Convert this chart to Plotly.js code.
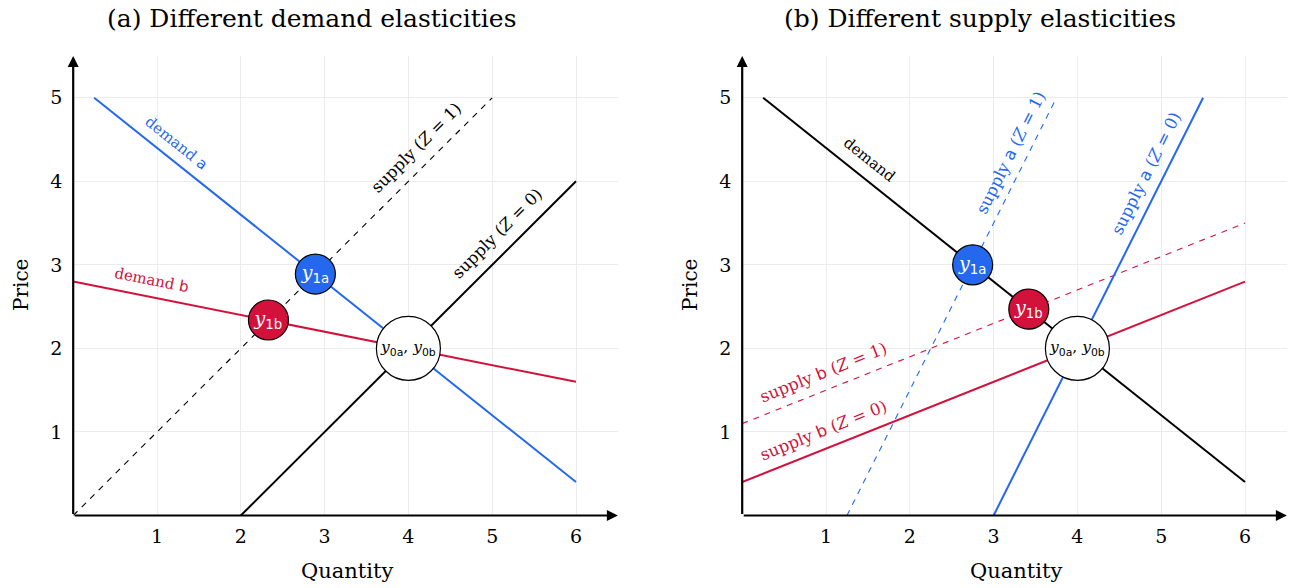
<!DOCTYPE html>
<html>
<head>
<meta charset="utf-8">
<script src="https://cdn.plot.ly/plotly-3.0.1.min.js"></script>
<style>html,body{margin:0;padding:0;background:#fff;}#chart{width:1291px;height:588px;}</style>
</head>
<body>
<div id="chart"></div>
<script>
// ---------- data ----------
// Panel (a): different demand elasticities
const demandA_Q = [0.25, 6];
const demandA_P = [5.0, 0.4];
const demandB_Q = [0, 6];
const demandB_P = [2.8, 1.6];
const supplyZ0_Q = [2, 6];
const supplyZ0_P = [0, 4];
const supplyZ1_Q = [0, 5];
const supplyZ1_P = [0, 5];
const eqA_Q = [2.89, 2.33, 4];
const eqA_P = [2.89, 2.34, 2];

// Panel (b): different supply elasticities
const demand_Q = [0.25, 6];
const demand_P = [5.0, 0.4];
const supplyA0_Q = [3, 5.5];
const supplyA0_P = [0, 5];
const supplyA1_Q = [1.25, 3.75];
const supplyA1_P = [0, 5];
const supplyB0_Q = [0, 6];
const supplyB0_P = [0.4, 2.8];
const supplyB1_Q = [0, 6];
const supplyB1_P = [1.1, 3.5];
const eqB_Q = [2.75, 3.42, 4];
const eqB_P = [3.0, 2.47, 2];

const xTicks = [1, 2, 3, 4, 5, 6];
const yTicks = [1, 2, 3, 4, 5];

// ---------- styling ----------
const BLUE = '#2468ee';
const RED = '#d3123c';
const BLACK = '#000000';
const SERIF = 'DejaVu Serif, Liberation Serif, serif';
const W = 1291, H = 588;

function line(xs, ys, color, width, dash, ax) {
  return {x: xs, y: ys, mode: 'lines', type: 'scatter',
    line: {color: color, width: width, dash: dash || 'solid'},
    xaxis: ax[0], yaxis: ax[1], hoverinfo: 'skip', showlegend: false, cliponaxis: false};
}
function sub(s){ return '<span style="font-family:DejaVu Sans">' + s + '</span>'; }
const lblY1a = '<i>y</i><sub>' + sub('1a') + '</sub>';
const lblY1b = '<i>y</i><sub>' + sub('1b') + '</sub>';
const lblY0 = '<i>y</i><sub>' + sub('0a') + '</sub>, <i>y</i><sub>' + sub('0b') + '</sub>';

function eqTraces(qs, ps, ax) {
  return [
    {x: qs.slice(0, 2), y: ps.slice(0, 2), mode: 'markers+text', type: 'scatter',
     marker: {size: 40, color: [BLUE, RED], line: {color: BLACK, width: 1.2}},
     text: [lblY1a, lblY1b], textposition: 'middle center',
     textfont: {family: SERIF, size: 19, color: '#ffffff'},
     xaxis: ax[0], yaxis: ax[1], hoverinfo: 'skip', showlegend: false, cliponaxis: false},
    {x: qs.slice(2), y: ps.slice(2), mode: 'markers+text', type: 'scatter',
     marker: {size: 64, color: '#ffffff', line: {color: BLACK, width: 1.2}},
     text: [lblY0], textposition: 'middle center',
     textfont: {family: SERIF, size: 15.5, color: BLACK},
     xaxis: ax[0], yaxis: ax[1], hoverinfo: 'skip', showlegend: false, cliponaxis: false}
  ];
}

const L = ['x', 'y'], R = ['x2', 'y2'];
const traces = [
  line(supplyZ1_Q, supplyZ1_P, BLACK, 1.1, '6px,6px', L),
  line(supplyZ0_Q, supplyZ0_P, BLACK, 2, 'solid', L),
  line(demandA_Q, demandA_P, BLUE, 2, 'solid', L),
  line(demandB_Q, demandB_P, RED, 2, 'solid', L),
  ...eqTraces(eqA_Q, eqA_P, L),
  line(supplyA1_Q, supplyA1_P, BLUE, 1.1, '6px,6px', R),
  line(supplyB1_Q, supplyB1_P, RED, 1.1, '6px,6px', R),
  line(supplyA0_Q, supplyA0_P, BLUE, 2, 'solid', R),
  line(supplyB0_Q, supplyB0_P, RED, 2, 'solid', R),
  line(demand_Q, demand_P, BLACK, 2, 'solid', R),
  ...eqTraces(eqB_Q, eqB_P, R)
];

function xAxis(domain, anchor) {
  return {domain: domain, range: [0, 6.5], anchor: anchor, tickmode: 'array', tickvals: xTicks,
    ticktext: xTicks.map(String), showgrid: true, gridcolor: '#ececec', gridwidth: 1,
    zeroline: false, showline: false, ticks: 'outside', ticklen: 4, tickcolor: 'rgba(0,0,0,0)',
    tickfont: {family: SERIF, size: 19, color: BLACK}, automargin: false, fixedrange: true};
}
function yAxis(domain, anchor) {
  return {domain: domain, range: [0, 5.5], anchor: anchor, tickmode: 'array', tickvals: yTicks,
    ticktext: yTicks.map(String), showgrid: true, gridcolor: '#ececec', gridwidth: 1,
    zeroline: false, showline: false, ticks: 'outside', ticklen: 6, tickcolor: 'rgba(0,0,0,0)',
    tickfont: {family: SERIF, size: 19, color: BLACK}, automargin: false, fixedrange: true};
}

const yDom = [(H - 515.5) / H, (H - 56) / H];
const xDomL = [73.2 / W, 617.9 / W];
const xDomR = [742.2 / W, 1286.9 / W];

function axisArrows(xr, yr) {
  return [
    {x: 6.5, y: 0, ax: 0, ay: 0, xref: xr, yref: yr, axref: xr, ayref: yr, showarrow: true,
     arrowhead: 2, arrowsize: 1, arrowwidth: 2.2, arrowcolor: BLACK, text: '', standoff: 0},
    {x: 0, y: 5.5, ax: 0, ay: 0, xref: xr, yref: yr, axref: xr, ayref: yr, showarrow: true,
     arrowhead: 2, arrowsize: 1, arrowwidth: 2.2, arrowcolor: BLACK, text: '', standoff: 0}
  ];
}
function lab(text, x, y, ang, color, xr, yr, size) {
  return {text: text, x: x, y: y, xref: xr, yref: yr, showarrow: false, textangle: ang,
    font: {family: SERIF, size: size || 16.5, color: color}, xanchor: 'center', yanchor: 'middle'};
}
function ptxt(text, px, py, size, ang) {
  return {text: text, x: px / W, y: 1 - py / H, xref: 'paper', yref: 'paper', showarrow: false,
    font: {family: SERIF, size: size, color: BLACK}, xanchor: 'center', yanchor: 'middle', textangle: ang || 0};
}
const Z1 = '(<i>Z</i> = 1)', Z0 = '(<i>Z</i> = 0)';
const annotations = [
  ...axisArrows('x', 'y'),
  ...axisArrows('x2', 'y2'),
  lab('demand ' + sub('a'), 1.23, 4.46, 38.7, BLUE, 'x', 'y', 15),
  lab('demand ' + sub('b'), 0.93, 2.82, 11.3, RED, 'x', 'y', 15),
  lab('supply ' + Z1, 4.10, 4.40, -45, BLACK, 'x', 'y'),
  lab('supply ' + Z0, 5.06, 3.37, -45, BLACK, 'x', 'y'),
  lab('demand', 1.525, 4.26, 38.7, BLACK, 'x2', 'y2', 15),
  lab('supply ' + sub('a') + ' ' + Z1, 3.21, 4.34, -63.4, BLUE, 'x2', 'y2'),
  lab('supply ' + sub('a') + ' ' + Z0, 4.83, 4.10, -63.4, BLUE, 'x2', 'y2'),
  lab('supply ' + sub('b') + ' ' + Z1, 0.97, 1.71, -21.8, RED, 'x2', 'y2'),
  lab('supply ' + sub('b') + ' ' + Z0, 0.97, 1.02, -21.8, RED, 'x2', 'y2'),
  ptxt('(a) Different demand elasticities', 312, 18, 25),
  ptxt('(b) Different supply elasticities', 980, 18, 25),
  ptxt('Quantity', 347, 571, 21),
  ptxt('Quantity', 1016, 571, 21),
  ptxt('Price', 21, 285, 20, -90),
  ptxt('Price', 690, 285, 20, -90)
];

const layout = {
  width: W, height: H,
  margin: {l: 0, r: 0, t: 0, b: 0},
  paper_bgcolor: '#ffffff', plot_bgcolor: '#ffffff',
  showlegend: false,
  xaxis: xAxis(xDomL, 'y'),
  yaxis: yAxis(yDom, 'x'),
  xaxis2: xAxis(xDomR, 'y2'),
  yaxis2: yAxis(yDom, 'x2'),
  annotations: annotations,
  hovermode: false
};

Plotly.newPlot('chart', traces, layout, {staticPlot: true, displayModeBar: false});
</script>
</body>
</html>
